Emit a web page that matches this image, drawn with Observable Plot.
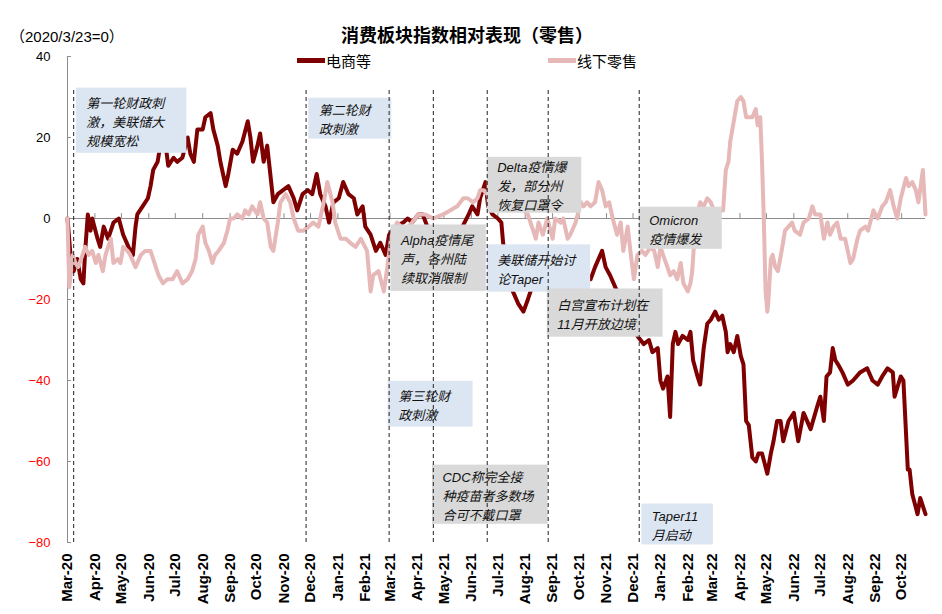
<!DOCTYPE html>
<html>
<head>
<meta charset="utf-8">
<script src="https://cdn.jsdelivr.net/npm/d3@7"></script>
<script src="https://cdn.jsdelivr.net/npm/@observablehq/plot@0.6"></script>
<style>
  body { margin: 0; background: #fff; }
  #wrap { position: relative; width: 942px; height: 614px; font-family: "Liberation Sans", "Noto Sans CJK SC", sans-serif; }
  .ov { position: absolute; white-space: nowrap; color: #000; }
  .sw { position: absolute; height: 5px; width: 28px; }
</style>
</head>
<body>
<div id="wrap">
  <div id="chart"></div>
  <div class="ov" style="left:0;width:934px;top:21px;text-align:center;font:bold 18px 'Noto Sans CJK SC',sans-serif;">消费板块指数相对表现（零售）</div>
  <div class="ov" style="left:10px;top:25px;font:15px 'Liberation Sans','Noto Sans CJK SC',sans-serif;">（2020/3/23=0）</div>
  <div class="sw" style="left:297px;top:58px;background:#7f0000;"></div>
  <div class="ov" style="left:326px;top:50px;font:15px 'Noto Sans CJK SC',sans-serif;">电商等</div>
  <div class="sw" style="left:548px;top:58px;background:#e6b8b7;"></div>
  <div class="ov" style="left:577px;top:50px;font:15px 'Noto Sans CJK SC',sans-serif;">线下零售</div>
</div>
<script>
// Days since 2020-03-23 (index base = 0) and relative performance values
const ecommerce = [[0,0],[3,-8],[7,-13],[11,-10],[15,-15],[18,-16],[20,-8],[23,1],[26,-3],[28,0],[34,-5],[37,-7],[41,-2],[46,-5],[52,-1],[58,0],[63,-4],[69,-7],[74,-9],[77,-2],[79,1],[85,3],[91,5],[94,8],[97,12],[102,14],[105,18],[110,20],[114,13],[120,15],[124,14],[130,15],[136,20],[139,16],[143,14],[147,22],[153,22],[156,25],[162,26],[165,22],[170,18],[173,14],[179,8],[182,11],[187,17],[192,16],[198,19],[204,24],[207,20],[210,14],[215,18],[218,21],[222,14],[226,18],[230,10],[233,4],[238,6],[244,7],[250,8],[256,5],[260,2],[266,6],[272,7],[277,6],[282,11],[286,6],[292,3],[296,-1],[301,4],[307,5],[312,9],[318,6],[324,5],[328,1],[334,3],[337,-2],[343,-4],[349,-8],[354,-6],[360,-9],[364,-4],[371,-2],[380,-1],[385,0],[390,-1],[397,1],[402,1],[409,-3],[418,-6],[428,-5],[439,-4],[447,-2],[454,1],[458,3],[464,1],[467,5],[473,9],[476,3],[481,1],[487,0],[491,-1],[493,-6],[499,-13],[504,-18],[510,-21],[516,-23],[521,-20],[524,-18],[535,-13],[547,-10],[558,-12],[569,-9],[581,-12],[592,-15],[597,-12],[605,-8],[609,-12],[614,-14],[620,-17],[631,-22],[639,-27],[645,-29],[652,-31],[658,-30],[662,-33],[668,-32],[671,-40],[674,-42],[679,-39],[682,-49],[685,-31],[688,-28],[691,-31],[696,-29],[702,-30],[705,-28],[708,-35],[713,-39],[716,-41],[720,-32],[724,-26],[728,-25],[733,-23],[737,-25],[741,-24],[745,-28],[747,-33],[750,-31],[754,-33],[758,-29],[762,-34],[765,-36],[768,-50],[771,-51],[775,-59],[779,-60],[782,-58],[786,-58],[792,-63],[796,-58],[799,-55],[803,-50],[807,-50],[810,-55],[816,-50],[822,-48],[827,-55],[833,-48],[841,-52],[849,-46],[852,-44],[856,-50],[859,-39],[863,-38],[866,-32],[869,-35],[872,-36],[877,-38],[883,-41],[889,-40],[897,-38],[905,-37],[911,-40],[917,-41],[922,-39],[928,-37],[934,-38],[936,-44],[943,-39],[946,-40],[951,-62],[953,-62],[956,-68],[962,-73],[965,-69],[971,-73]];

const offlineRetail = [[0,0],[2,-17],[6,-9],[9,-11],[12,-12],[17,-9],[20,-7],[24,-9],[28,-8],[32,-11],[35,-9],[40,-13],[43,-9],[49,-5],[52,-11],[57,-10],[60,-11],[63,-7],[68,-8],[71,-9],[77,-12],[83,-9],[88,-8],[94,-8],[100,-12],[103,-14],[108,-16],[113,-15],[119,-15],[124,-13],[130,-16],[136,-15],[141,-13],[145,-10],[148,-4],[153,-2],[156,-6],[160,-8],[164,-11],[167,-9],[171,-8],[177,-6],[181,-3],[184,0],[188,0],[192,1],[198,0],[201,2],[205,1],[209,3],[215,1],[218,4],[222,0],[226,-1],[230,-7],[233,-8],[238,-1],[241,4],[247,6],[252,4],[256,0],[261,-3],[267,-3],[273,-2],[278,-1],[284,-2],[290,4],[294,9],[300,4],[303,-1],[309,-5],[315,-5],[320,-6],[326,-7],[332,-5],[339,-8],[343,-18],[346,-14],[352,-13],[358,-18],[362,-12],[366,-5],[369,-3],[373,-1],[382,-3],[390,-1],[397,1],[405,1],[414,0],[425,1],[433,2],[441,3],[448,5],[453,5],[459,4],[464,5],[467,7],[471,7],[479,5],[490,7],[501,4],[513,3],[521,1],[524,-1],[530,-5],[533,-1],[538,-4],[543,0],[549,-5],[552,0],[558,-1],[561,0],[566,-5],[569,-4],[575,-1],[581,4],[584,3],[588,4],[592,3],[597,4],[601,9],[605,7],[609,3],[613,4],[617,0],[622,-4],[626,-1],[629,-8],[634,-2],[637,-8],[641,-15],[645,-9],[650,-8],[654,-9],[660,-7],[664,-8],[668,-12],[671,-7],[674,-9],[679,-12],[682,-14],[686,-13],[690,-15],[694,-11],[697,-16],[702,-18],[705,-16],[707,-13],[711,0],[716,4],[720,3],[724,5],[728,4],[733,1],[739,2],[742,2],[745,12],[748,14],[750,19],[754,24],[758,29],[762,30],[765,29],[768,25],[771,25],[775,25],[779,27],[781,23],[784,25],[786,14],[788,0],[790,-18],[792,-23],[793,-21],[796,-10],[798,-9],[801,-12],[804,-13],[809,-7],[812,-3],[816,-2],[820,-1],[823,-3],[829,-4],[833,-1],[839,0],[843,3],[846,1],[852,1],[856,-5],[860,-1],[863,-4],[867,-2],[871,-1],[875,-5],[880,-5],[886,-11],[889,-10],[894,-5],[897,-3],[903,-2],[906,-3],[912,2],[917,0],[922,3],[926,4],[931,7],[935,3],[939,0],[943,5],[949,10],[952,8],[956,9],[960,7],[963,4],[968,12],[971,1]];

const tickLabels = ["Mar-20","Apr-20","May-20","Jun-20","Jul-20","Aug-20","Sep-20","Oct-20","Nov-20","Dec-20","Jan-21","Feb-21","Mar-21","Apr-21","May-21","Jun-21","Jul-21","Aug-21","Sep-21","Oct-21","Nov-21","Dec-21","Jan-22","Feb-22","Mar-22","Apr-22","May-22","Jun-22","Jul-22","Aug-22","Sep-22","Oct-22"];
const yTicksPos = [0, 20, 40];
const yTicksNeg = [-20, -40, -60, -80];
const eventDays = [7, 270, 364, 414, 475, 544, 647];

// annotation boxes: day range, value range, text, kind
const notes = [
  {d1: 10, d2: 135, v1: 32.2, v2: 16.1, text: "第一轮财政刺\n激，美联储大\n规模宽松", kind: "b"},
  {d1: 273, d2: 367, v1: 29.7, v2: 19.6, text: "第二轮财\n政刺激", kind: "b"},
  {d1: 363, d2: 459, v1: -40.2, v2: -51.5, text: "第三轮财\n政刺激", kind: "b"},
  {d1: 366, d2: 474, v1: -1.6, v2: -18.0, text: "Alpha疫情尾\n声，各州陆\n续取消限制", kind: "g"},
  {d1: 475, d2: 582, v1: 15.1, v2: 1.3, text: "Delta疫情爆\n发，部分州\n恢复口罩令", kind: "g"},
  {d1: 475, d2: 592, v1: -6.5, v2: -18.2, text: "美联储开始讨\n论Taper", kind: "b"},
  {d1: 543, d2: 674, v1: -17.4, v2: -29.3, text: "白宫宣布计划在\n11月开放边境", kind: "g"},
  {d1: 647, d2: 741, v1: 2.8, v2: -7.6, text: "Omicron\n疫情爆发", kind: "g"},
  {d1: 413, d2: 544, v1: -60.9, v2: -75.5, text: "CDC称完全接\n种疫苗者多数场\n合可不戴口罩", kind: "g"},
  {d1: 650, d2: 731, v1: -70.5, v2: -80.6, text: "Taper11\n月启动", kind: "b"}
];

const base = Date.UTC(2020, 2, 23);
const toDate = d => new Date(base + d * 864e5);
const tickDates = tickLabels.map((_, i) => new Date(Date.UTC(2020, 2 + i, 23)));
const E = ecommerce.map(([d, v]) => ({date: toDate(d), value: v}));
const P = offlineRetail.map(([d, v]) => ({date: toDate(d), value: v}));
const boxFill = {b: "#dce6f2", g: "#d9d9d9"};

const chart = Plot.plot({
  width: 942,
  height: 614,
  marginLeft: 67,
  marginRight: 17,
  marginTop: 56,
  marginBottom: 72,
  x: {type: "utc", domain: [toDate(0), toDate(971)]},
  y: {domain: [-80, 40]},
  style: {fontFamily: "'Liberation Sans','Noto Sans CJK SC',sans-serif", background: "transparent", overflow: "visible"},
  marks: [
    Plot.ruleY([0], {stroke: "#8c8c8c", strokeWidth: 1}),
    Plot.ruleX(tickDates, {y1: 0, y2: 1.2, stroke: "#8c8c8c"}),
    Plot.ruleX([toDate(0)], {y1: -80, y2: 40, stroke: "#8c8c8c"}),
    Plot.ruleY([...yTicksPos, ...yTicksNeg], {x1: toDate(0), x2: toDate(4.5), stroke: "#8c8c8c"}),
    Plot.line(E, {x: "date", y: "value", stroke: "#7f0000", strokeWidth: 4, curve: "linear"}),
    Plot.line(P, {x: "date", y: "value", stroke: "#e6b8b7", strokeWidth: 4, curve: "linear"}),
    Plot.rect(notes, {x1: d => toDate(d.d1), x2: d => toDate(d.d2), y1: "v1", y2: "v2", fill: d => boxFill[d.kind]}),
    Plot.text(notes, {x: d => toDate(d.d1), y: d => (d.v1 + d.v2) / 2, text: "text", textAnchor: "start", lineAnchor: "middle", dx: 10, lineHeight: 1.45, fontSize: 13, fontStyle: "italic", fill: "#111", fontFamily: "'Liberation Sans','Noto Sans CJK SC',sans-serif"}),
    Plot.ruleX(eventDays.map(toDate), {y1: -80, y2: 32, stroke: "#222", strokeWidth: 1, strokeDasharray: "4,3"}),
    Plot.axisX(tickDates, {anchor: "bottom", tickSize: 0, tickPadding: 11, tickRotate: -90, fontSize: 15, fontWeight: "bold", label: null,
      tickFormat: d => tickLabels[tickDates.findIndex(t => +t === +d)]}),
    Plot.axisY(yTicksPos, {anchor: "left", tickSize: 0, tickPadding: 17, fontSize: 13, color: "#000", label: null}),
    Plot.axisY(yTicksNeg, {anchor: "left", tickSize: 0, tickPadding: 17, fontSize: 13, color: "#ff0000", label: null})
  ]
});
document.getElementById("chart").appendChild(chart);
</script>
</body>
</html>
